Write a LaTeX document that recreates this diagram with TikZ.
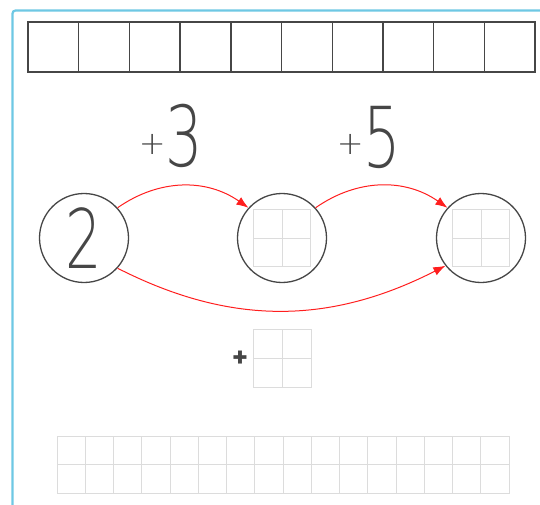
\documentclass[tikz,border=0pt]{standalone}
\usepackage{fontspec}
\usetikzlibrary{arrows.meta}
\newfontfamily\plusfont{Fira Sans}
\newfontfamily\thinfont{DejaVu Sans}[UprightFont={* ExtraLight}]
\definecolor{borderblue}{RGB}{110,200,228}
\definecolor{boxgray}{RGB}{70,70,70}
\definecolor{gridgray}{RGB}{220,220,220}
\definecolor{arrowred}{RGB}{255,30,30}
\begin{document}
\begin{tikzpicture}[x=1pt,y=1pt,
  bubble/.style={circle,draw=boxgray,line width=1.3pt,minimum size=89pt,inner sep=0pt},
  link/.style={draw=arrowred,line width=1pt,-{Latex[length=12pt,width=9pt]}},
  faint/.style={draw=gridgray,line width=0.9pt},
  strong/.style={draw=boxgray,line width=1.4pt},
  optext/.style={anchor=base,inner sep=0pt,font=\thinfont,text=boxgray}
]
\useasboundingbox (0,0) rectangle (540,504);
% page border
\draw[borderblue,line width=2.2pt,rounded corners=3pt] (541,493.5) -- (12.5,493.5) -- (12.5,-1);
% top row of 10 boxes
\draw[strong] (28,432) rectangle (535,482);
\foreach \i in {1,...,9} \draw[strong] (28+50.7*\i,432) -- (28+50.7*\i,482);
% circles
\node[bubble,text=boxgray] (c1) at (84,266) {\scalebox{0.7}[1]{\thinfont\fontsize{82}{82}\selectfont 2}};
\node[bubble] (c2) at (282,266) {};
\node[bubble] (c3) at (481,266) {};
% small 2x2 grids in circles
\foreach \c in {c2,c3} {
  \draw[faint] ([shift={(-28.5,-28.5)}]\c.center) rectangle ([shift={(28.5,28.5)}]\c.center);
  \draw[faint] ([shift={(0,-28.5)}]\c.center) -- ([shift={(0,28.5)}]\c.center);
  \draw[faint] ([shift={(-28.5,0)}]\c.center) -- ([shift={(28.5,0)}]\c.center);
}
% operation labels
\node[optext] (op3) at (171,337) {\raisebox{13pt}{\fontsize{32}{32}\selectfont +}\scalebox{0.7}[1]{\fontsize{84}{84}\selectfont 3}};
\node[optext] (op5) at (369,336) {\raisebox{13pt}{\fontsize{32}{32}\selectfont +}\scalebox{0.7}[1]{\fontsize{84}{84}\selectfont 5}};
% arrows
\draw[link] (c1.42) to[out=35,in=145] (c2.138);
\draw[link] (c2.42) to[out=35,in=145] (c3.138);
\draw[link] (c1.-42) to[out=-27,in=-153] (c3.-142);
% plus with answer box
\node[inner sep=0pt,text=boxgray,font=\plusfont\bfseries\fontsize{30}{30}\selectfont] (plus) at (240,145) {+};
\draw[faint] (253,117) rectangle (311,175);
\draw[faint] (282,117) -- (282,175);
\draw[faint] (253,146) -- (311,146);
% bottom grid 16 x 2
\draw[faint] (57,11) rectangle (509,68);
\draw[faint] (57,39.5) -- (509,39.5);
\foreach \i in {1,...,15} \draw[faint] (57+28.25*\i,11) -- (57+28.25*\i,68);
\end{tikzpicture}
\end{document}
